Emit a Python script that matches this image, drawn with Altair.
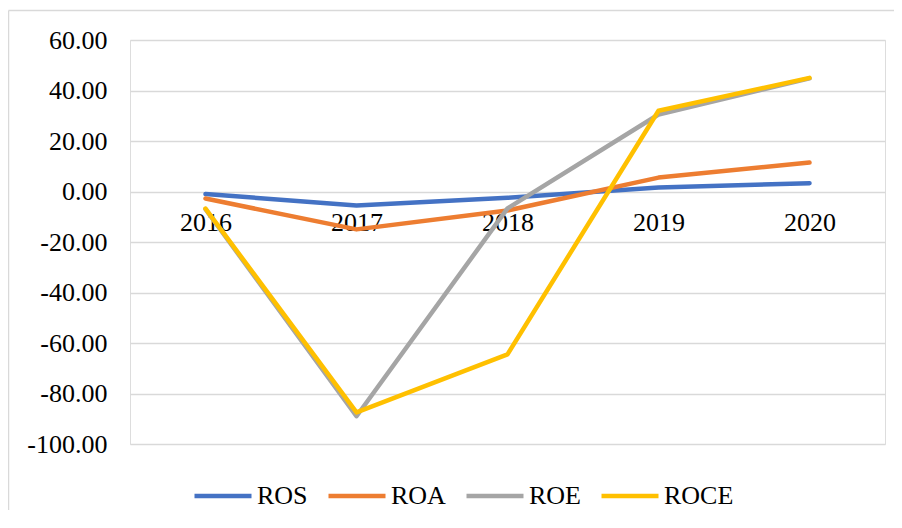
import altair as alt
import pandas as pd

years = ["2016", "2017", "2018", "2019", "2020"]
series_names = ["ROS", "ROA", "ROE", "ROCE"]
ros = [-1.0, -5.5, -2.5, 1.6, 3.3]
roa = [-2.8, -15.0, -7.5, 5.5, 11.5]
roe = [-7.0, -89.0, -6.7, 30.5, 44.8]
roce = [-6.8, -87.5, -64.5, 32.0, 45.0]
colors = ["#4472C4", "#ED7D31", "#A5A5A5", "#FFC000"]
y_ticks = [-100, -80, -60, -40, -20, 0, 20, 40, 60]

rows = []
for name, vals in zip(series_names, [ros, roa, roe, roce]):
    for yr, v in zip(years, vals):
        rows.append({"year": yr, "series": name, "value": v})
df = pd.DataFrame(rows)

FONT = "Liberation Serif, Times New Roman, serif"

lines = alt.Chart(df).mark_line(strokeWidth=4.5, strokeCap="round", strokeJoin="round").encode(
    x=alt.X("year:N", sort=years,
            scale=alt.Scale(type="point", padding=0.5),
            axis=alt.Axis(orient="bottom", offset=-252.5, domain=False, ticks=False,
                          labelAngle=0, labelFont=FONT, labelFontSize=26, labelColor="black",
                          labelBaseline="middle", labelPadding=31, title=None, grid=False)),
    y=alt.Y("value:Q",
            scale=alt.Scale(domain=[-100, 60], nice=False, zero=False),
            axis=alt.Axis(values=y_ticks,
                          labelExpr="replace(format(datum.value, '.2f'), '\u2212', '-')",
                          labelFont=FONT, labelFontSize=26, labelColor="black",
                          labelPadding=23, domain=False, ticks=False, grid=True,
                          gridColor="#D9D9D9", gridWidth=1.5, title=None)),
    color=alt.Color("series:N",
                    scale=alt.Scale(domain=series_names, range=colors),
                    sort=series_names,
                    legend=alt.Legend(orient="none", legendX=62, legendY=425,
                                      direction="horizontal", symbolType="stroke",
                                      symbolSize=3249, symbolStrokeWidth=4.5,
                                      labelFont=FONT, labelFontSize=26, labelColor="black",
                                      labelOffset=3, columnPadding=11, title=None)),
    order=alt.Order("year:N"),
)

one = pd.DataFrame({"a": [0]})
frame_left = alt.Chart(one).mark_rule(stroke="#D9D9D9", strokeWidth=1.5).encode(
    x=alt.value(-121.5), y=alt.value(-29.5), y2=alt.value(474)
)
frame_top = alt.Chart(one).mark_rule(stroke="#D9D9D9", strokeWidth=1.5).encode(
    x=alt.value(-121.5), x2=alt.value(764), y=alt.value(-29.5)
)

chart = alt.layer(frame_left, frame_top, lines).properties(
    width=755, height=404,
    autosize=alt.AutoSizeParams(type="none"),
    padding={"left": 122, "top": 32, "right": 9, "bottom": 66},
).configure_view(stroke=None).configure(background="white")

chart.save("out.html", embed_options={"renderer": "svg", "actions": False})
